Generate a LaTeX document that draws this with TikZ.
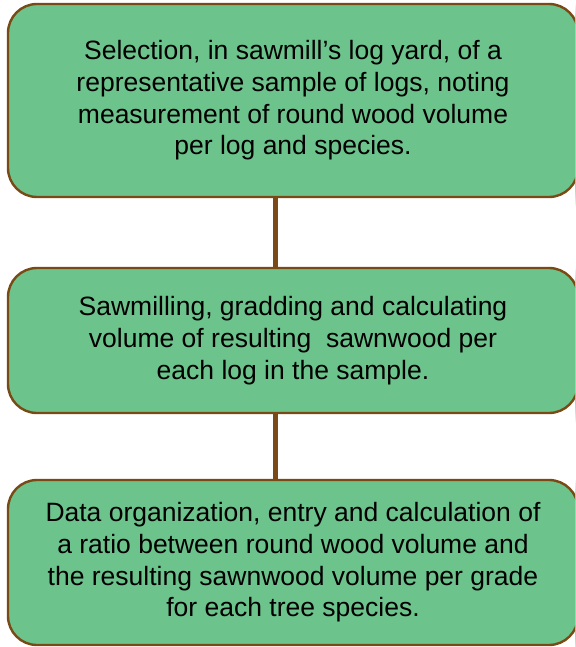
\documentclass[tikz,border=0pt]{standalone}
\usepackage{fontspec}
\setmainfont{Liberation Sans}
\usetikzlibrary{backgrounds}
\definecolor{boxfill}{RGB}{108,195,139}
\definecolor{boxline}{RGB}{122,74,22}
\definecolor{shadowcol}{RGB}{120,80,60}
\tikzset{
  stepbox/.style={draw=boxline, line width=2.4pt, fill=boxfill, rounded corners=29pt,
    minimum width=570pt, inner sep=0pt, align=center, text=black,
    font=\fontsize{26.5}{31.7}\selectfont},
  conn/.style={draw=boxline, line width=5pt}
}
\begin{document}
\begin{tikzpicture}[x=1pt,y=-1pt]
\clip (0,0) rectangle (575,647);
\fill[white] (0,0) rectangle (575,647);
\node[stepbox, minimum height=193pt] (b1) at (293,100.5)
  {Selection, in sawmill’s log yard, of a\\representative sample of logs, noting\\measurement of round wood volume\\per log and species.};
\node[stepbox, minimum height=145pt] (b2) at (293,340.5)
  {Sawmilling, gradding and calculating\\volume of resulting~ sawnwood per\\each log in the sample.};
\node[stepbox, minimum height=165pt] (b3) at (293,562.5)
  {Data organization, entry and calculation of\\a ratio between round wood volume and\\the resulting sawnwood volume per grade\\for each tree species.};
\begin{scope}[on background layer]
  \foreach \n in {b1,b2,b3}{
    \foreach \d in {12,10,8,6,4,2,0}{
      \fill[shadowcol, opacity=0.06, rounded corners={(29+\d)*1pt}]
        ([xshift=-\d pt, yshift={\d pt-5pt}]\n.north west) rectangle ([xshift=\d pt, yshift={-\d pt-5pt}]\n.south east);
    }
  }
\end{scope}
\draw[conn] ([xshift=-18pt]b1.south) -- ([xshift=-18pt]b2.north);
\draw[conn] ([xshift=-18pt]b2.south) -- ([xshift=-18pt]b3.north);
\end{tikzpicture}
\end{document}
